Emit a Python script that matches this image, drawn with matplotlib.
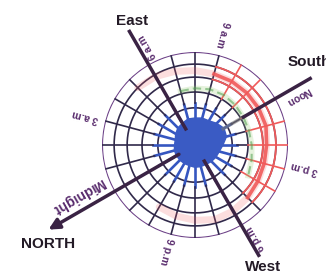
import numpy as np
import matplotlib.pyplot as plt

# hour of day -> radius of the blue shape (fraction of the outer ring)
hours = np.arange(24)
blob_r = [0.23, 0.23, 0.22, 0.22, 0.24, 0.26, 0.27, 0.29, 0.29, 0.30, 0.30, 0.33,
          0.36, 0.35, 0.30, 0.27, 0.26, 0.25, 0.24, 0.24, 0.24, 0.23, 0.23, 0.23]
ring_r = [0.40, 0.57, 0.73, 0.87, 1.0]

# red sun path
sun_hours = [5, 6, 7, 8, 9, 10, 11, 12, 13, 14, 15, 16, 17, 18, 19, 20, 21, 22]
sun_r = [0.87, 0.85, 0.82, 0.80, 0.79, 0.79, 0.79, 0.79, 0.79, 0.77, 0.77, 0.78,
         0.80, 0.82, 0.83, 0.81, 0.79, 0.77]
# green path
green_hours = [7, 8, 9, 10, 11, 12, 13, 14, 15, 16]
green_r = [0.60, 0.61, 0.62, 0.62, 0.61, 0.60, 0.60, 0.61, 0.63, 0.66]

hour_labels = ['Midnight', '3 a.m', '6 a.m', '9 a.m', 'Noon', '3 p.m', '6 p.m', '9 p.m']
hour_nominal = [0, 3, 6, 9, 12, 15, 18, 21]
label_h = [0.45, 2.96, 6.3, 8.95, 12.3, 14.8, 17.8, 21.0]
label_r = [1.37, 1.22, 1.17, 1.22, 1.23, 1.20, 1.20, 1.18]


def th(h):
    return np.asarray(h) * 2 * np.pi / 24


fig = plt.figure(figsize=(3.26, 2.71), dpi=100)
ax = fig.add_axes([0.3129, 0.1218, 0.5706, 0.6863], projection='polar')
ax.set_theta_offset(np.deg2rad(210))
ax.set_theta_direction(-1)
ax.set_rlim(0, 1)
ax.axis('off')

dark = '#30294a'
purple = '#6b3f86'
red = '#f05a5a'
line_c = '#3a2344'

# grid rings
t = np.linspace(0, 2 * np.pi, 300)
for r in ring_r[:-1]:
    ax.plot(t, np.full_like(t, r), color=dark, lw=1.2, zorder=2)
ax.plot(t, np.ones_like(t), color=purple, lw=1.5, zorder=2)
tr = np.linspace(th(9), th(17), 80)
for r in ring_r[2:4]:
    ax.plot(tr, np.full_like(tr, r), color=red, lw=1.3, zorder=3)

# spokes
for h in hours:
    ax.plot([th(h), th(h)], [0, 0.45], color='#3556c0', lw=1.9, zorder=2)
    c = red if 10 <= h <= 16 else dark
    ax.plot([th(h), th(h)], [0.45, 0.57], color=dark, lw=1.2, zorder=2)
    ax.plot([th(h), th(h)], [0.57, 1.0], color=c, lw=1.2, zorder=2)

# sun path (faded ends, strong middle)
ax.plot(th(sun_hours), sun_r, color=red, lw=5, alpha=0.2, zorder=4,
        solid_capstyle='round')
ax.plot(th(sun_hours[4:13]), sun_r[4:13], color=red, lw=2.6, alpha=0.9, zorder=4)

# green path
ax.plot(th(green_hours), green_r, color='#9ccf7a', lw=4, alpha=0.25, zorder=4)
ax.plot(th(green_hours), green_r, color='#4fa04f', lw=1.5, alpha=0.55, zorder=4,
        ls=(0, (4, 2)))

# blue shape
ax.fill(th(list(hours) + [0]), blob_r + [blob_r[0]], color='#3a5bc4', zorder=5)

# compass lines
ax.plot([th(6), th(6)], [0.2, 1.41], color=line_c, lw=2.5, zorder=6, clip_on=False)
ax.plot([th(18), th(18)], [0.2, 1.37], color=line_c, lw=2.5, zorder=6, clip_on=False)
ax.plot([th(12), th(12)], [0.35, 0.6], color='#777777', lw=2.5, alpha=0.6, zorder=6)
ax.plot([th(12), th(12)], [0.6, 1.43], color=line_c, lw=2.5, zorder=6, clip_on=False)
ax.annotate('', xy=(th(0), 1.82), xytext=(th(0), 0.2), annotation_clip=False,
            arrowprops=dict(arrowstyle='-|>', lw=2.5, color=line_c,
                            mutation_scale=16, shrinkA=0, shrinkB=0),
            zorder=6)

# hour labels, printed upside down as in the original
for s, hn, h, r in zip(hour_labels, hour_nominal, label_h, label_r):
    a = 210 - 15 * hn
    rot = ((a + 90) % 180) - 90 + 180
    ax.text(th(h), r, s, rotation=rot, rotation_mode='anchor', ha='center',
            va='center', fontsize=10 if s == 'Midnight' else 7.5,
            fontweight='bold', color='#5a2d6e', family='Liberation Sans')

ax.text(th(6.2), 1.5, 'East', ha='center', va='center', fontsize=11,
        fontweight='bold', color='#231a26', family='Liberation Sans')
ax.text(th(11.2), 1.34, 'South', ha='left', va='center', fontsize=11,
        fontweight='bold', color='#231a26', family='Liberation Sans')
ax.text(th(18.05), 1.5, 'West', ha='center', va='center', fontsize=11,
        fontweight='bold', color='#231a26', family='Liberation Sans')
ax.text(th(23.74), 1.9, 'NORTH', ha='center', va='center', fontsize=11,
        fontweight='bold', color='#231a26', family='Liberation Sans')

plt.savefig('out.png', dpi=100)
